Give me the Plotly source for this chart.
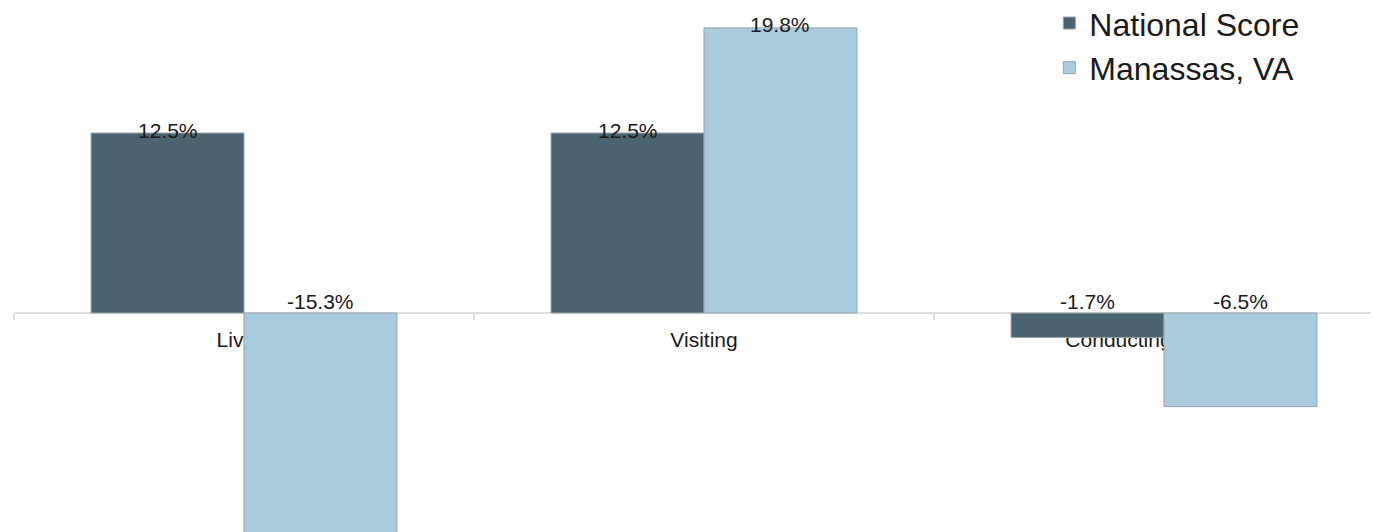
import plotly.graph_objects as go

categories = ["Living", "Visiting", "Conducting Business"]
national = [12.5, 12.5, -1.7]
manassas = [-15.3, 19.8, -6.5]
series_names = ["National Score", "Manassas, VA"]
colors = ["#4b6370", "#a8ccdd"]

# page has an 8px body margin; the figure is sized to fit the window
W, H = 1371, 524
ml = 6
px_per_unit = 14.4
zero_y = 305  # zero line, px from figure top
y_range = [-(H - zero_y) / px_per_unit, zero_y / px_per_unit]
zero_pos = (0 - y_range[0]) / (y_range[1] - y_range[0])

fig = go.Figure()
for name, vals, col in zip(series_names, [national, manassas], colors):
    fig.add_trace(go.Bar(
        x=categories, y=vals, name=name,
        marker=dict(color=col, line=dict(color="#9aa3a8", width=1)),
    ))

half = (1 - 0.335) / 4
for offs, vals in [(-half, national), (half, manassas)]:
    for i, v in enumerate(vals):
        fig.add_annotation(
            x=i + offs, y=max(v, 0), text=f"{v:.1f}%", showarrow=False,
            xref="x", yref="y", yanchor="middle",
            yshift=3 if v >= 0 else 12,
            font=dict(family="Liberation Sans, Arial", size=21, color="#1a1a1a"),
        )

fig.update_layout(
    width=W, height=H,
    margin=dict(l=ml, r=0, t=0, b=0, autoexpand=False),
    paper_bgcolor="white", plot_bgcolor="white",
    barmode="group", bargap=0.335, bargroupgap=0,
    font=dict(family="Liberation Sans, Arial", color="#1a1a1a"),
    showlegend=True,
    legend=dict(
        x=0.7585, y=1.0234, xanchor="left", yanchor="top",
        font=dict(size=32, color="#1a1a1a"),
        bgcolor="rgba(0,0,0,0)", tracegroupgap=0, itemwidth=30,
    ),
    xaxis=dict(
        type="category",
        range=[-0.5, 2.5 - 15 / 460],
        anchor="free", position=zero_pos,
        showline=True, linecolor="#dedede", linewidth=2,
        ticks="outside", tickson="boundaries", ticklen=6,
        tickcolor="#dedede", tickwidth=2, ticklabelstandoff=8,
        showgrid=False, zeroline=False,
        layer="below traces",
        tickfont=dict(size=21, color="#1a1a1a"),
    ),
    yaxis=dict(
        range=y_range, domain=[0, 1],
        showticklabels=False, showgrid=False, zeroline=False, showline=False,
    ),
)

fig.write_html("out.html")
